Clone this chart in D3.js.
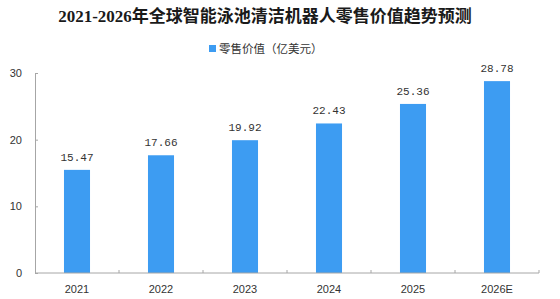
<!DOCTYPE html>
<html>
<head>
<meta charset="utf-8">
<script src="https://cdn.jsdelivr.net/npm/d3@7"></script>
<style>
  body { margin: 0; background: #fff; }
  svg { display: block; }
</style>
</head>
<body>
<div id="chart"></div>
<script>
// chart values
var years = ['2021', '2022', '2023', '2024', '2025', '2026E']
var retailValue = [15.47, 17.66, 19.92, 22.43, 25.36, 28.78]
var yTicks = [0, 10, 20, 30]
var titleText = '2021-2026年全球智能泳池清洁机器人零售价值趋势预测'
var legendText = '零售价值（亿美元）'

var svgWidth = 560
var svgHeight = 299
var margin = { top: 73, right: 21, bottom: 26, left: 35 }
var chartWidth = svgWidth - margin.left - margin.right
var chartHeight = svgHeight - margin.top - margin.bottom

var barColor = '#3d9cf2'
var axisColor = '#a6a6a6'

var svg = d3.select('#chart')
  .append('svg')
  .attr('width', svgWidth)
  .attr('height', svgHeight)

// title
svg.append('text')
  .attr('x', 265)
  .attr('y', 22)
  .attr('text-anchor', 'middle')
  .attr('font-family', '"Liberation Serif", "Noto Sans CJK SC", serif')
  .attr('font-weight', 'bold')
  .attr('font-size', '17px')
  .attr('fill', '#1a1a1a')
  .text(titleText)

// legend
svg.append('rect')
  .attr('x', 209)
  .attr('y', 45)
  .attr('width', 7)
  .attr('height', 7)
  .attr('fill', barColor)

svg.append('text')
  .attr('x', 219)
  .attr('y', 53)
  .attr('font-family', '"Noto Sans CJK SC", sans-serif')
  .attr('font-size', '11.5px')
  .attr('fill', '#333')
  .text(legendText)

var chartGroup = svg.append('g')
  .attr('transform', `translate(${margin.left}, ${margin.top})`)

var xScale = d3.scaleBand()
  .domain(years)
  .range([0, chartWidth])

var yScale = d3.scaleLinear()
  .domain([0, 30])
  .range([chartHeight, 0])

// y axis, ticks point inward
var yAxis = chartGroup.append('g')
  .call(d3.axisLeft(yScale).tickValues(yTicks).tickSize(-3).tickSizeOuter(0))
yAxis.select('.domain').attr('stroke', axisColor)
yAxis.selectAll('.tick line').attr('stroke', axisColor)
yAxis.selectAll('.tick text')
  .attr('x', -13)
  .attr('font-family', '"Liberation Sans", Arial, sans-serif')
  .attr('font-size', '11px')
  .attr('fill', '#333')

// bars
var barW = xScale.bandwidth() * 0.31
chartGroup.selectAll('.bar')
  .data(years)
  .enter()
  .append('rect')
  .attr('class', 'bar')
  .attr('x', (d, i) => xScale(d) + xScale.bandwidth() / 2 - barW / 2)
  .attr('y', (d, i) => yScale(retailValue[i]))
  .attr('width', barW)
  .attr('height', (d, i) => chartHeight - yScale(retailValue[i]))
  .attr('fill', barColor)

// value labels
chartGroup.selectAll('.val')
  .data(years)
  .enter()
  .append('text')
  .attr('class', 'val')
  .attr('x', d => xScale(d) + xScale.bandwidth() / 2)
  .attr('y', (d, i) => yScale(retailValue[i]) - 9)
  .attr('text-anchor', 'middle')
  .attr('font-family', '"Liberation Mono", "DejaVu Sans Mono", monospace')
  .attr('font-size', '11px')
  .attr('fill', '#333')
  .text((d, i) => retailValue[i].toFixed(2))

// x axis with ticks at the band edges
var xAxis = chartGroup.append('g')
  .attr('transform', `translate(0, ${chartHeight})`)
xAxis.append('line')
  .attr('x1', 0)
  .attr('x2', chartWidth)
  .attr('stroke', axisColor)
xAxis.selectAll('.edge')
  .data(years.slice(1).concat(['end']))
  .enter()
  .append('line')
  .attr('class', 'edge')
  .attr('x1', d => d === 'end' ? chartWidth : xScale(d))
  .attr('x2', d => d === 'end' ? chartWidth : xScale(d))
  .attr('y1', -3)
  .attr('y2', 0)
  .attr('stroke', axisColor)
xAxis.selectAll('.lbl')
  .data(years)
  .enter()
  .append('text')
  .attr('class', 'lbl')
  .attr('x', d => xScale(d) + xScale.bandwidth() / 2)
  .attr('y', 20)
  .attr('text-anchor', 'middle')
  .attr('font-family', '"Liberation Sans", Arial, sans-serif')
  .attr('font-size', '11px')
  .attr('fill', '#333')
  .text(d => d)
</script>
</body>
</html>
